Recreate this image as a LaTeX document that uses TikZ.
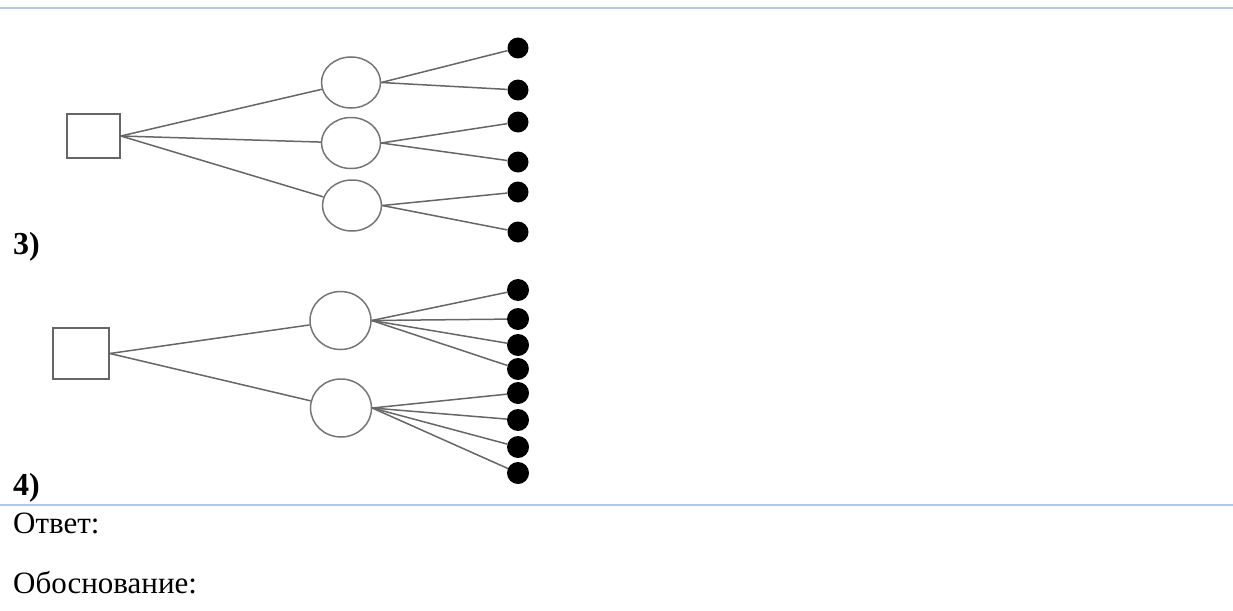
\documentclass[tikz,border=0pt]{standalone}
\usepackage{fontspec}
\setmainfont{Liberation Serif}
\usetikzlibrary{shapes.geometric}
\definecolor{ruleblue}{HTML}{B4C7E7}
\definecolor{edgegray}{HTML}{666666}

\begin{document}
\begin{tikzpicture}[x=1pt,y=-1pt,dec/.style={shape=rectangle,draw=edgegray,line width=1.7pt,inner sep=0pt},chance/.style={shape=ellipse,draw=edgegray!90,line width=1.5pt,inner sep=0pt,minimum width=59pt,minimum height=51pt},chanceB/.style={chance,minimum width=61pt,minimum height=58pt},leaf/.style={shape=ellipse,fill=black,inner sep=0pt,minimum width=21pt,minimum height=21pt},leafB/.style={leaf,minimum width=22pt,minimum height=22pt},link/.style={draw=edgegray,line width=1.5pt},num/.style={anchor=base west,inner sep=0pt,font=\fontsize{32}{38}\selectfont\bfseries},txt/.style={anchor=base west,inner sep=0pt,font=\fontsize{31}{37}\selectfont}]
\def\xd{518};
\def\xl{13};

\useasboundingbox (0,0) rectangle (1233,610);
\draw[ruleblue,line width=2pt] (0,8) -- (1233,8);
\draw[ruleblue,line width=2pt] (0,505) -- (1233,505);

\node[dec,minimum width=53pt,minimum height=44pt] (R) at (93.5,136) {};

\node[chance] (C1) at (351,82.5) {};
\draw[link] (R.east) -- (C1);
\node[chance] (C2) at (351,143) {};
\draw[link] (R.east) -- (C2);
\node[chance] (C3) at (352,205.5) {};
\draw[link] (R.east) -- (C3);

\node[leaf] (E1) at (\xd,48) {};
\draw[link] (C1.east) -- (E1);
\node[leaf] (E2) at (\xd,90) {};
\draw[link] (C1.east) -- (E2);
\node[leaf] (E3) at (\xd,122) {};
\draw[link] (C2.east) -- (E3);
\node[leaf] (E4) at (\xd,162) {};
\draw[link] (C2.east) -- (E4);
\node[leaf] (E5) at (\xd,192) {};
\draw[link] (C3.east) -- (E5);
\node[leaf] (E6) at (\xd,232) {};
\draw[link] (C3.east) -- (E6);

\node[num] (L3) at (\xl,254) {3)};

\node[dec,minimum width=56pt,minimum height=51pt] (Q) at (81,353.5) {};

\node[chanceB] (K1) at (340.5,320.5) {};
\draw[link] (Q.east) -- (K1);
\node[chanceB] (K2) at (341,408) {};
\draw[link] (Q.east) -- (K2);

\node[leafB] (F1) at (\xd,290) {};
\draw[link] (K1.east) -- (F1);
\node[leafB] (F2) at (\xd,319) {};
\draw[link] (K1.east) -- (F2);
\node[leafB] (F3) at (\xd,345) {};
\draw[link] (K1.east) -- (F3);
\node[leafB] (F4) at (\xd,369) {};
\draw[link] (K1.east) -- (F4);
\node[leafB] (F5) at (\xd,393) {};
\draw[link] (K2.east) -- (F5);
\node[leafB] (F6) at (\xd,420) {};
\draw[link] (K2.east) -- (F6);
\node[leafB] (F7) at (\xd,447) {};
\draw[link] (K2.east) -- (F7);
\node[leafB] (F8) at (\xd,473) {};
\draw[link] (K2.east) -- (F8);

\node[num] (L4) at (\xl,495) {4)};

\node[txt] (ans) at (\xl,533) {Ответ:};
\node[txt] (why) at (\xl,593) {Обоснование:};
\end{tikzpicture}
\end{document}
